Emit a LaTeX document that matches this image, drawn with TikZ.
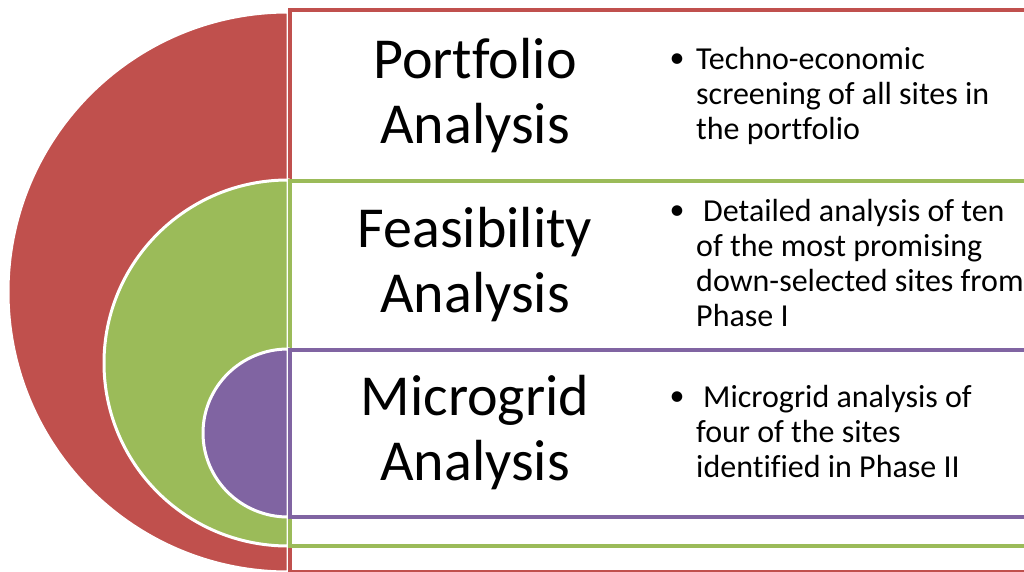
\documentclass[tikz,border=0pt]{standalone}
\usepackage{fontspec}
\setmainfont{Carlito}[Ligatures={NoCommon}]
\definecolor{cred}{HTML}{C0504D}
\definecolor{cgreen}{HTML}{9BBB59}
\definecolor{cpurple}{HTML}{8064A2}
\tikzset{
  halfdisk/.style={draw=white, line width=3pt},
  panel/.style={fill=white, line width=4pt},
  title/.style={align=center, font=\fontsize{58}{65}\selectfont, inner sep=0pt},
  btext/.style={align=left, font=\fontsize{32}{35}\selectfont, inner sep=0pt, anchor=north west},
  bul/.style={font=\fontsize{30}{35}\selectfont, inner sep=0pt}
}
\begin{document}
\begin{tikzpicture}[x=1pt,y=-1pt]
\useasboundingbox (0,0) rectangle (1024,572);
\clip (0,0) rectangle (1024,572);
% red
\fill[cred, halfdisk] (288,12) arc[start angle=270, end angle=90, x radius=280, y radius=280] -- cycle;
\draw[panel, draw=cred] (290,10) rectangle (1040,572);
% green
\fill[cgreen, halfdisk] (288,180) arc[start angle=270, end angle=90, x radius=184, y radius=183] -- cycle;
\draw[panel, draw=cgreen] (290,181) rectangle (1040,546);
% purple
\fill[cpurple, halfdisk] (288,349) arc[start angle=270, end angle=90, x radius=85, y radius=84] -- cycle;
\draw[panel, draw=cpurple] (290,350) rectangle (1040,517);
% titles
\node[title] (t1) at (475,96) {Portfolio\\Analysis};
\node[title] (t2) at (475,265) {Feasibility\\Analysis};
\node[title] (t3) at (475,433) {Microgrid\\Analysis};
% bullets
\node[bul] (b1) at (677,61) {•};
\node[btext] (x1) at (696,47.5) {Techno-economic\\screening of all sites in\\the portfolio};
\node[bul] (b2) at (677,213) {•};
\node[btext] (x2) at (696,199.5) {\hspace{7pt}Detailed analysis of ten\\of the most promising\\down-selected sites from\\Phase I};
\node[bul] (b3) at (677,399) {•};
\node[btext] (x3) at (696,385.5) {\hspace{7pt}Microgrid analysis of\\four of the sites\\identified in Phase II};
\end{tikzpicture}
\end{document}
